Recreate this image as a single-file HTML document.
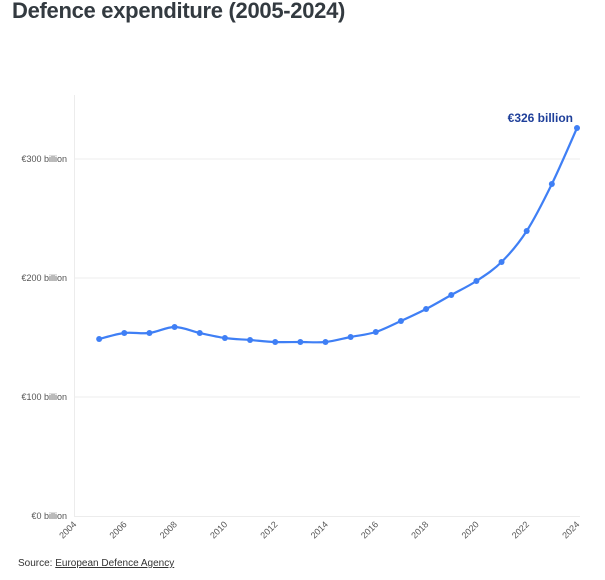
<!DOCTYPE html>
<html><head><meta charset="utf-8"><style>
body{margin:0;background:#fff;width:605px;height:580px;overflow:hidden;font-family:"Liberation Sans",sans-serif}
.t{position:absolute;left:12px;top:-2px;font-size:22px;letter-spacing:-0.3px;font-weight:bold;color:#333a40}
.s{position:absolute;left:18px;top:558px;font-size:10px;color:#333}
.s u{color:#333}
</style></head><body>
<div class="t">Defence expenditure (2005-2024)</div>
<svg id="c" width="605" height="580" style="position:absolute;left:0;top:0">
<g stroke="#ececec" stroke-width="1">
<line x1="74" y1="159" x2="580" y2="159"/>
<line x1="74" y1="278" x2="580" y2="278"/>
<line x1="74" y1="397" x2="580" y2="397"/>
<line x1="74" y1="516.5" x2="580" y2="516.5"/>
<line x1="74.5" y1="95" x2="74.5" y2="517"/>
</g>
<g font-size="9" fill="#555" text-anchor="end" font-family="Liberation Sans,sans-serif">
<text x="67" y="162">€300 billion</text>
<text x="67" y="281">€200 billion</text>
<text x="67" y="400">€100 billion</text>
<text x="67" y="519">€0 billion</text>
</g>
<g id="xl" font-size="9" fill="#555" text-anchor="end" font-family="Liberation Sans,sans-serif"></g>
<path id="ln" fill="none" stroke="#3f7ff5" stroke-width="2.2"/>
<g id="pts" fill="#3f7ff5"></g>
<text x="573" y="122" text-anchor="end" font-size="12" font-weight="bold" fill="#1e3f9a" font-family="Liberation Sans,sans-serif">€326 billion</text>
</svg>
<div class="s">Source: <u>European Defence Agency</u></div>
<script>
var ys=[339,333,333,327,333,338,340,342,342,342,337,332,321,309,295,281,262,231,184,128];
var p=ys.map(function(y,i){return [74+25.15*(i+1),y]});
var d="M"+p[0][0]+","+p[0][1];
for(var i=0;i<p.length-1;i++){
 var p0=p[i-1]||p[i],p1=p[i],p2=p[i+1],p3=p[i+2]||p2;
 var c1=[p1[0]+(p2[0]-p0[0])/6,p1[1]+(p2[1]-p0[1])/6];
 var c2=[p2[0]-(p3[0]-p1[0])/6,p2[1]-(p3[1]-p1[1])/6];
 d+=" C"+c1+" "+c2+" "+p2;
}
document.getElementById("ln").setAttribute("d",d);
var g=document.getElementById("pts"),ns="http://www.w3.org/2000/svg";
p.forEach(function(q){var c=document.createElementNS(ns,"circle");c.setAttribute("cx",q[0]);c.setAttribute("cy",q[1]);c.setAttribute("r",3);g.appendChild(c);});
var xl=document.getElementById("xl");
for(var y=2004;y<=2024;y+=2){var x=74+25.15*(y-2004)+3;var t=document.createElementNS(ns,"text");t.setAttribute("transform","translate("+x+",525) rotate(-45)");t.textContent=y;xl.appendChild(t);}
</script>
</body></html>
